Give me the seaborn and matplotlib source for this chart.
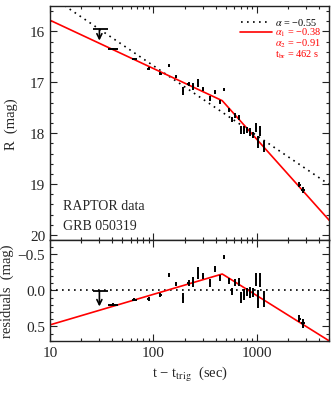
import numpy as np
import matplotlib
matplotlib.use('Agg')
import matplotlib.pyplot as plt
from matplotlib.ticker import MultipleLocator, FuncFormatter, LogLocator
import seaborn as sns

# RAPTOR data, GRB 050319 - R magnitudes
t_obs = [41, 65.5, 90, 116, 141, 166, 192, 218, 239, 267, 301, 349, 390, 436, 483,
         532, 574, 618, 666, 707, 755, 801, 849, 916, 986, 1016, 1079, 1162, 2570, 2793]
t_err = [4.5, 4, 3.5, 4, 3, 4, 3, 5, 5, 5, 7, 8, 8, 8, 8,
         12, 12, 12, 12, 10, 10, 10, 10, 10, 10, 10, 10, 10, 100, 100]
r_mag = [16.34, 16.55, 16.73, 16.83, 16.67, 16.89, 17.17, 17.04, 17.08, 17.02, 17.13, 17.32, 17.19, 17.38, 17.15,
         17.54, 17.73, 17.65, 17.69, 17.94, 17.94, 17.94, 17.98, 18.03, 17.89, 18.18, 17.95, 18.26, 19.01, 19.12]
r_err = [0.02, 0.02, 0.03, 0.03, 0.03, 0.03, 0.07, 0.04, 0.07, 0.08, 0.04, 0.05, 0.04, 0.04, 0.03,
         0.04, 0.05, 0.05, 0.05, 0.08, 0.08, 0.06, 0.08, 0.06, 0.09, 0.12, 0.10, 0.11, 0.05, 0.06]

# upper limit (first exposure)
ul_t = 30
ul_lo, ul_hi = 26, 36
ul_mag = 15.96
ul_arrow = 0.22

# fits
alpha = -0.55
alpha1 = -0.38
alpha2 = -0.91
t_br = 462
m_single = 15.30   # single power law, mag at t = 10 s
m_broken = 15.78   # broken power law, mag at t = 10 s

t_grid = np.logspace(1, np.log10(5000), 400)


def single(t):
    return m_single - 2.5 * alpha * np.log10(np.asarray(t) / 10.)


def broken(t):
    t = np.asarray(t, dtype=float)
    m_br = m_broken - 2.5 * alpha1 * np.log10(t_br / 10.)
    return np.where(t < t_br,
                    m_broken - 2.5 * alpha1 * np.log10(t / 10.),
                    m_br - 2.5 * alpha2 * np.log10(t / t_br))


resid = np.array(r_mag) - single(t_obs)
ul_resid = ul_mag - single(ul_t)

sns.set_theme(style='ticks')
plt.rcParams['font.family'] = ['Liberation Serif', 'DejaVu Serif']
plt.rcParams['mathtext.fontset'] = 'stix'

fig = plt.figure(figsize=(3.35, 4.02), dpi=100)
ax1 = fig.add_axes([0.1493, 0.4005, 0.8337, 0.5821])
ax2 = fig.add_axes([0.1493, 0.150, 0.8337, 0.2505], sharex=ax1)

dots = (0, (1, 2.6))

# top panel
ax1.set_xscale('log')
sns.lineplot(x=t_grid, y=single(t_grid), ax=ax1, color='black', lw=1.2, linestyle=dots)
sns.lineplot(x=t_grid, y=broken(t_grid), ax=ax1, color='red', lw=1.2)
ax1.errorbar(t_obs, r_mag, xerr=t_err, yerr=r_err, fmt='none', ecolor='black', elinewidth=1.4, capsize=0)
ax1.hlines(ul_mag, ul_lo, ul_hi, color='black', lw=1.3)
ax1.annotate('', xy=(ul_t, ul_mag + ul_arrow), xytext=(ul_t, ul_mag),
             arrowprops=dict(arrowstyle='->', color='black', lw=1.2, mutation_scale=9, shrinkA=0, shrinkB=0))
ax1.set_xlim(10, 5000)
ax1.set_ylim(20.1, 15.5)
ax1.set_ylabel('R  (mag)', fontsize=10.5)
ax1.yaxis.set_label_coords(-0.115, 0.5)

ax1.text(0.045, 0.132, 'RAPTOR data', transform=ax1.transAxes, fontsize=10)
ax1.text(0.045, 0.047, 'GRB 050319', transform=ax1.transAxes, fontsize=10)

# legend
ax1.plot([0.683, 0.79], [0.933, 0.933], transform=ax1.transAxes, color='black', lw=1.2, linestyle=dots)
ax1.plot([0.68, 0.794], [0.888, 0.888], transform=ax1.transAxes, color='red', lw=1.2)
leg_txt = [r'$\alpha$ = −0.55', r'$\alpha_1$ = −0.38', r'$\alpha_2$ = −0.91', r't$_{\rm br}$ = 462 s']
leg_col = ['black', 'red', 'red', 'red']
for i, (s, c) in enumerate(zip(leg_txt, leg_col)):
    ax1.text(0.806, 0.933 - 0.045 * i, s, transform=ax1.transAxes, fontsize=7.4, color=c, va='center')

# residual panel
ax2.axhline(0, color='black', lw=1.2, linestyle=dots)
sns.lineplot(x=t_grid, y=broken(t_grid) - single(t_grid), ax=ax2, color='red', lw=1.2)
ax2.errorbar(t_obs, resid, xerr=t_err, yerr=r_err, fmt='none', ecolor='black', elinewidth=1.4, capsize=0)
ax2.hlines(ul_resid, ul_lo, ul_hi, color='black', lw=1.3)
ax2.annotate('', xy=(ul_t, ul_resid + ul_arrow), xytext=(ul_t, ul_resid),
             arrowprops=dict(arrowstyle='->', color='black', lw=1.2, mutation_scale=9, shrinkA=0, shrinkB=0))
ax2.set_ylim(0.7, -0.7)
ax2.set_ylabel('residuals  (mag)', fontsize=10.5)
ax2.yaxis.set_label_coords(-0.13, 0.5)
ax2.set_xlabel(r't − t$_{\rm trig}$  (sec)', fontsize=10.5)

for ax in (ax1, ax2):
    ax.tick_params(which='both', direction='in', top=True, right=True, labelsize=11, width=0.8, color='#222222')
    ax.tick_params(which='major', length=5)
    ax.tick_params(which='minor', length=2.5)
    ax.xaxis.set_major_locator(LogLocator(base=10))
    ax.xaxis.set_minor_locator(LogLocator(base=10, subs=np.arange(2, 10)))
    for sp in ax.spines.values():
        sp.set_linewidth(1.0)
        sp.set_color('#222222')

ax1.yaxis.set_major_locator(MultipleLocator(1))
ax1.yaxis.set_minor_locator(MultipleLocator(0.2))
ax1.yaxis.set_major_formatter(FuncFormatter(lambda v, p: f'{v:.0f}'))
ax1.tick_params(labelbottom=False)
ax2.yaxis.set_major_locator(MultipleLocator(0.5))
ax2.yaxis.set_minor_locator(MultipleLocator(0.1))
ax2.yaxis.set_major_formatter(FuncFormatter(lambda v, p: f'{v:.1f}'.replace('-', '−')))
ax2.xaxis.set_major_formatter(FuncFormatter(lambda v, p: f'{v:.0f}'))

fig.savefig('out.png', dpi=100)
